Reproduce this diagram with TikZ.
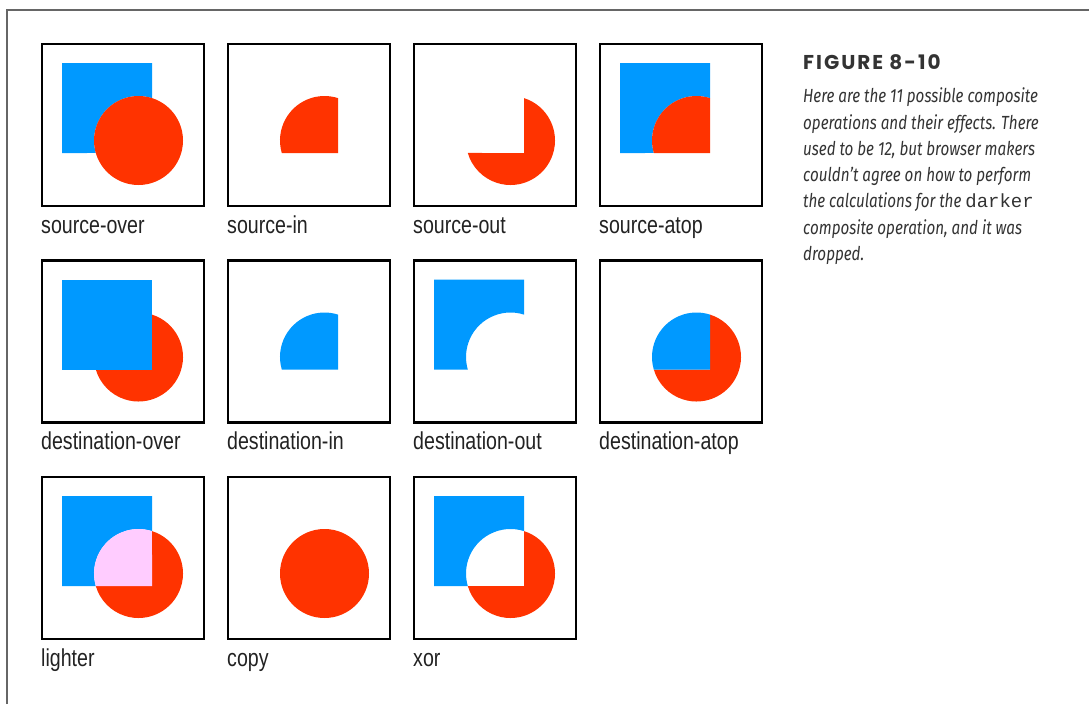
\documentclass[tikz,border=0pt]{standalone}
\usepackage{fontspec}
\setmainfont{Liberation Sans}
\newfontfamily\lblfont[FakeStretch=0.8]{Liberation Sans}
\newfontfamily\figfont[LetterSpace=10]{Poppins}
\newfontfamily\capfont[FakeStretch=0.8]{Fira Sans}
\newfontfamily\codefont{Liberation Mono}
\definecolor{cblue}{HTML}{0099FF}
\definecolor{cred}{HTML}{FF3300}
\definecolor{cpink}{HTML}{FFCCFF}
\definecolor{framegray}{HTML}{666666}
\definecolor{lbltxt}{HTML}{222222}
\definecolor{captxt}{HTML}{333333}
\tikzset{
  % blue square (source shape) and red circle (destination shape), y axis pointing down
  sq/.style={insert path={(21,20) rectangle (111,110)}},
  ci/.style={insert path={(97.5,97.5) circle[radius=44.5]}},
  % circle and square overlap
  inter/.style={insert path={(54.79,110) arc[start angle=163.69,end angle=287.66,radius=44.5] -- (111,110) -- cycle}},
  % circle outside the square
  cionly/.style={insert path={(111,55.10) arc[start angle=-72.34,end angle=163.69,radius=44.5] -- (111,110) -- cycle}},
  % square outside the circle
  sqonly/.style={insert path={(21,20) -- (111,20) -- (111,55.10) arc[start angle=-72.34,end angle=-196.31,radius=44.5] -- (21,110) -- cycle}},
  compbox/.style={draw=black, line width=2.5pt, minimum size=162pt, inner sep=0pt, fill=white},
  lbl/.style={anchor=base west, inner sep=0pt, text=lbltxt, font=\lblfont\fontsize{24.5}{28}\selectfont},
  capline/.style={anchor=base west, inner sep=0pt, text=captxt, font=\capfont\itshape\fontsize{19}{26}\selectfont},
}
\begin{document}
\begin{tikzpicture}[x=1pt,y=-1pt]
\useasboundingbox (0,0) rectangle (1089,704);
\draw[framegray, line width=2pt] (7,704) -- (7,10) -- (1089,10);

% ---- boxes
\node[compbox] (b1) at (123,125) {};
\node[compbox] (b2) at (309,125) {};
\node[compbox] (b3) at (495,125) {};
\node[compbox] (b4) at (681,125) {};
\node[compbox] (b5) at (123,341.5) {};
\node[compbox] (b6) at (309,341.5) {};
\node[compbox] (b7) at (495,341.5) {};
\node[compbox] (b8) at (681,341.5) {};
\node[compbox] (b9) at (123,558) {};
\node[compbox] (b10) at (309,558) {};
\node[compbox] (b11) at (495,558) {};

% source-over
\begin{scope}[shift={(41,43)}]
  \fill[cblue,sqonly];
  \fill[cred,ci];
\end{scope}
% source-in
\begin{scope}[shift={(227,43)}]
  \fill[cred,inter];
\end{scope}
% source-out
\begin{scope}[shift={(413,43)}]
  \fill[cred,cionly];
\end{scope}
% source-atop
\begin{scope}[shift={(599,43)}]
  \fill[cblue,sqonly];
  \fill[cred,inter];
\end{scope}
% destination-over
\begin{scope}[shift={(41,259.5)}]
  \fill[cred,cionly];
  \fill[cblue,sq];
\end{scope}
% destination-in
\begin{scope}[shift={(227,259.5)}]
  \fill[cblue,inter];
\end{scope}
% destination-out
\begin{scope}[shift={(413,259.5)}]
  \fill[cblue,sqonly];
\end{scope}
% destination-atop
\begin{scope}[shift={(599,259.5)}]
  \fill[cred,cionly];
  \fill[cblue,inter];
\end{scope}
% lighter
\begin{scope}[shift={(41,476)}]
  \fill[cblue,sqonly];
  \fill[cred,cionly];
  \fill[cpink,inter];
\end{scope}
% copy
\begin{scope}[shift={(227,476)}]
  \fill[cred,ci];
\end{scope}
% xor
\begin{scope}[shift={(413,476)}]
  \fill[cblue,sqonly];
  \fill[cred,cionly];
\end{scope}

% ---- labels
\node[lbl] (l1) at (41,233) {source-over};
\node[lbl] (l2) at (227,233) {source-in};
\node[lbl] (l3) at (413,233) {source-out};
\node[lbl] (l4) at (599,233) {source-atop};
\node[lbl] (l5) at (41,449.5) {destination-over};
\node[lbl] (l6) at (227,449.5) {destination-in};
\node[lbl] (l7) at (413,449.5) {destination-out};
\node[lbl] (l8) at (599,449.5) {destination-atop};
\node[lbl] (l9) at (41,666) {lighter};
\node[lbl] (l10) at (227,666) {copy};
\node[lbl] (l11) at (413,666) {xor};

% ---- caption
\node[anchor=base west, inner sep=0pt, text=captxt, font=\figfont\bfseries\fontsize{20}{24}\selectfont] (fig) at (803,69) {FIGURE 8-10};
\node[capline] (c1) at (803,102.7) {Here are the 11 possible composite};
\node[capline] (c2) at (803,129) {operations and their effects. There};
\node[capline] (c3) at (803,155.3) {used to be 12, but browser makers};
\node[capline] (c4) at (803,181.6) {couldn’t agree on how to perform};
\node[capline] (c5) at (803,207.9) {the calculations for the {\codefont\upshape\fontsize{19}{26}\selectfont darker}};
\node[capline] (c6) at (803,234.2) {composite operation, and it was};
\node[capline] (c7) at (803,260.5) {dropped.};
\end{tikzpicture}
\end{document}
